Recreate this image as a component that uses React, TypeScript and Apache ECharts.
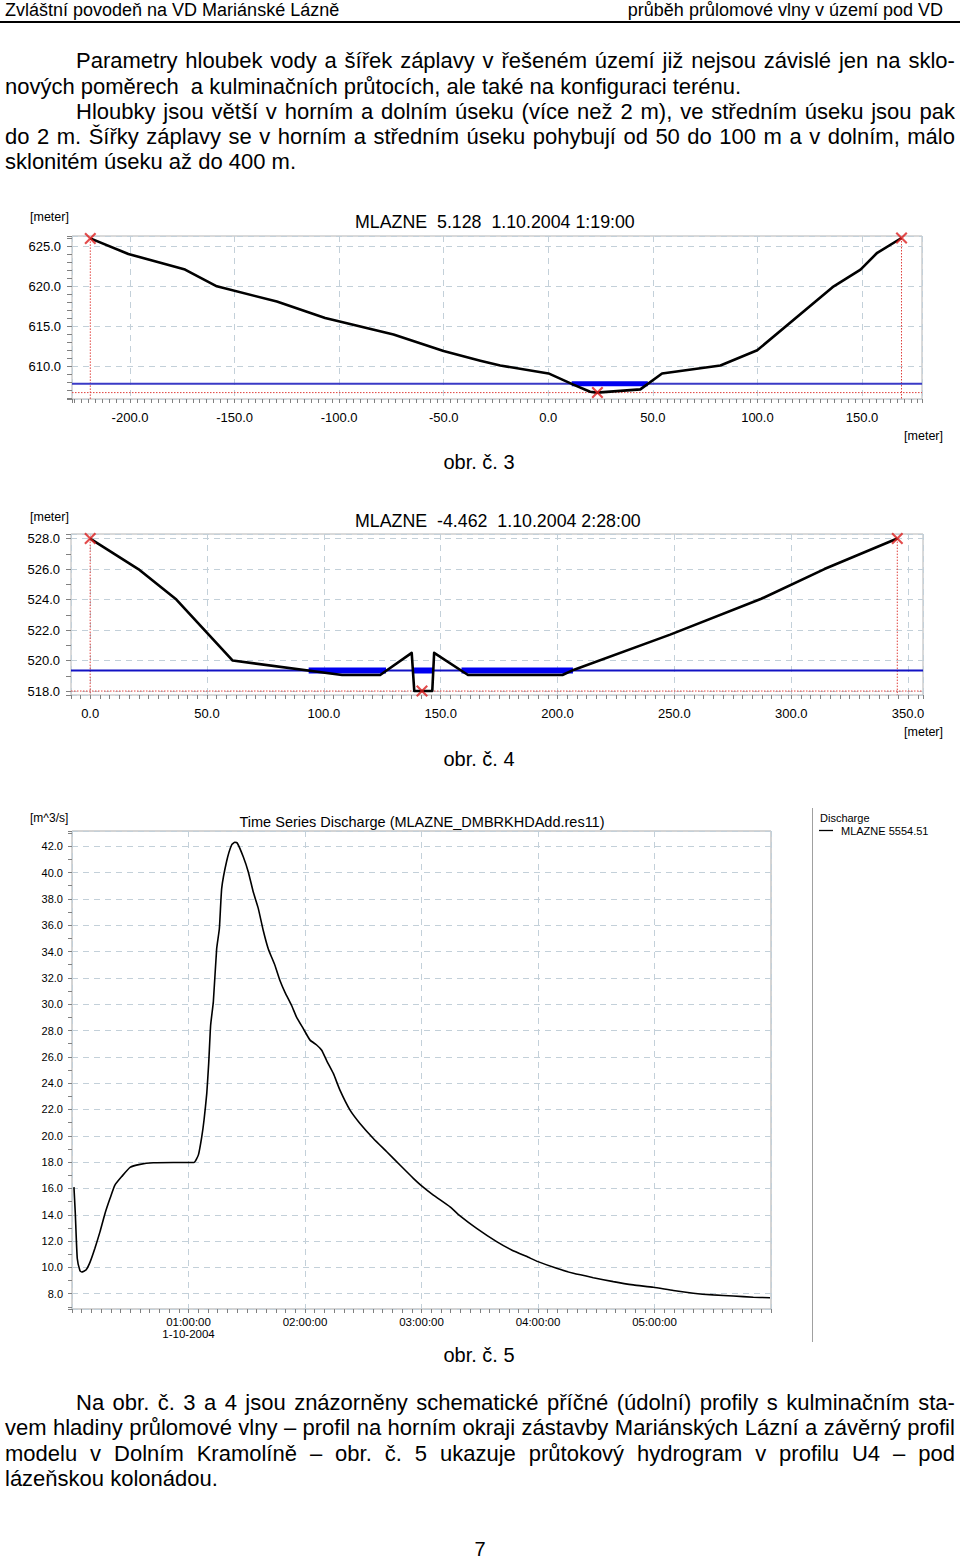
import React, { useEffect, useRef } from "react";
import * as echarts from "echarts";

const FONT = '"Liberation Sans", Arial, Helvetica, sans-serif';

// ---------------- obr. č. 3 (cross-section, upper profile) ----------------
const p1Station = [-219, -200.8, -173.7, -158.5, -129.8, -106.7, -74.0, -50.1, -32.5, -23.0, 0.1, 12.0, 20.0, 23.2, 44.0, 54.4, 82.3, 99.9, 136.5, 149.3, 157.3, 168.9];
const p1Elev = [626.0, 624.05, 622.1, 620.0, 618.1, 616.05, 613.96, 611.9, 610.7, 610.1, 609.1, 607.7, 606.8, 606.7, 607.1, 609.1, 610.1, 612.0, 620.0, 622.1, 624.2, 626.05];
const p1WaterLevel = 607.8;
const p1WaterFrom = [11.2];
const p1WaterTo = [47.6];
const p1BedLevel = 606.7;
const p1MarkX = [-219, 23.5, 168.9];
const p1MarkZ = [626.0, 606.7, 626.05];
const p1XRange = [-227.75, 178.7];
const p1YRange = [605.9, 626.3];
const p1XStep = 50;
const p1YStep = 5;
const p1Title = "MLAZNE  5.128  1.10.2004 1:19:00";

// ---------------- obr. č. 4 (cross-section, closing profile) ----------------
const p2Station = [0, 20.6, 36.9, 61.0, 107.8, 124.1, 137.6, 138.7, 146.4, 147.2, 161.7, 202.1, 207.1, 248.2, 287.2, 314.2, 345.4];
const p2Elev = [528.0, 526.0, 524.0, 520.0, 519.05, 519.05, 520.5, 518.0, 518.0, 520.5, 519.05, 519.05, 519.4, 521.7, 524.05, 526.0, 528.0];
const p2WaterLevel = 519.35;
const p2WaterFrom = [93.5, 138.6, 158.9];
const p2WaterTo = [126.6, 146.6, 206.6];
const p2BedLevel = 518.0;
const p2MarkX = [0, 142.0, 345.4];
const p2MarkZ = [528.0, 518.0, 528.0];
const p2XRange = [-8.2, 356.4];
const p2YRange = [517.74, 528.3];
const p2XStep = 50;
const p2YStep = 2;
const p2Title = "MLAZNE  -4.462  1.10.2004 2:28:00";

// ---------------- obr. č. 5 (discharge hydrograph) ----------------
const hydroMinutes = [1, 1.7, 2.7, 4.1, 5.0, 7.2, 9.3, 11.8, 14.4, 17, 19.6, 22.1, 25.6, 29.9, 35, 41.9, 52.2, 62.8, 65.1, 66.8, 68.0, 69.4, 70.4, 71.4, 72.8, 74.5, 75.9, 77.1, 79.7, 82.2, 83.9, 85.1, 88.2, 90.8, 93.4, 95.9, 98.5, 101.1, 104.5, 107.1, 109.7, 113.1, 115.7, 119.1, 122.6, 126, 128.6, 131.2, 134.6, 138, 143.2, 148.3, 155.2, 162.1, 168.9, 175.8, 179.6, 186.1, 194.7, 200, 208.4, 218.7, 226.4, 235, 240, 249.6, 258.2, 268.5, 278.8, 289.1, 299.4, 309.7, 320, 330.3, 340.6, 350.9, 359.5];
const hydroQ = [16.1, 14.1, 10.7, 9.75, 9.65, 9.8, 10.4, 11.45, 12.7, 14.1, 15.25, 16.25, 16.9, 17.6, 17.83, 17.95, 17.97, 17.97, 18.55, 19.9, 21.2, 23.2, 25.5, 28.4, 30.2, 34.2, 35.75, 38.8, 40.9, 42.1, 42.3, 42.25, 41.2, 40.05, 38.5, 37.3, 35.6, 34.2, 32.96, 31.8, 30.9, 29.9, 29.0, 28.15, 27.27, 26.9, 26.5, 25.7, 24.74, 23.47, 21.95, 20.94, 19.8, 18.79, 17.78, 16.77, 16.26, 15.5, 14.6, 13.9, 12.97, 11.96, 11.33, 10.77, 10.44, 9.93, 9.55, 9.22, 8.92, 8.67, 8.49, 8.24, 8.04, 7.91, 7.83, 7.73, 7.7];
const hydroXRange = [0, 360];
const hydroXStep = 60;
const hydroYRange = [6.84, 43.16];
const hydroYStep = 2;
const hydroTitle = "Time Series Discharge (MLAZNE_DMBRKHDAdd.res11)";
const hydroSeriesName = "MLAZNE 5554.51";

// ---------------- page text ----------------
const headerLeft = "Zvláštní povodeň na VD Mariánské Lázně";
const headerRight = "průběh průlomové vlny v území pod VD";
const para1 = [
  { text: "Parametry hloubek vody a šířek záplavy v řešeném území již nejsou závislé jen na sklo-", y: 62, indent: true, justify: true },
  { text: "nových poměrech  a kulminačních průtocích, ale také na konfiguraci terénu.", y: 88, indent: false, justify: false },
  { text: "Hloubky jsou větší v horním a dolním úseku (více než 2 m), ve středním úseku jsou pak", y: 113, indent: true, justify: true },
  { text: "do 2 m. Šířky záplavy se v horním a středním úseku pohybují od 50 do 100 m a v dolním, málo", y: 138, indent: false, justify: true },
  { text: "sklonitém úseku až do 400 m.", y: 163, indent: false, justify: false },
];
const para2 = [
  { text: "Na obr. č. 3 a 4 jsou znázorněny schematické příčné (údolní) profily s kulminačním sta-", y: 1404, indent: true, justify: true },
  { text: "vem hladiny průlomové vlny – profil na horním okraji zástavby Mariánských Lázní a závěrný profil", y: 1429, indent: false, justify: true },
  { text: "modelu v Dolním Kramolíně – obr. č. 5 ukazuje průtokový hydrogram v profilu U4 – pod", y: 1455, indent: false, justify: true },
  { text: "lázeňskou kolonádou.", y: 1480, indent: false, justify: false },
];
const pageNumber = "7";

const X_SYMBOL = "path://M0,1.5L1.5,0L6,4.5L10.5,0L12,1.5L7.5,6L12,10.5L10.5,12L6,7.5L1.5,12L0,10.5L4.5,6Z";
const GRID_LINE = { color: "#c3d0d9", type: [6, 5] as any, width: 1 };
const TICK_LINE = { color: "#808080", width: 1 };

function fixed1(v: number) {
  return v.toFixed(1);
}

function valueAxis(gi: number, range: number[], step: number, minorSplit: number, fontSize: number, margin: number, tickLen: number) {
  return {
    type: "value",
    gridIndex: gi,
    min: range[0],
    max: range[1],
    minInterval: step,
    maxInterval: step,
    splitNumber: Math.max(1, Math.round((range[1] - range[0]) / step)),
    axisLine: { show: false, onZero: false },
    axisTick: { show: true, length: tickLen, lineStyle: TICK_LINE },
    minorTick: { show: true, splitNumber: minorSplit, length: tickLen, lineStyle: TICK_LINE },
    axisLabel: {
      showMinLabel: false,
      showMaxLabel: false,
      formatter: fixed1,
      color: "#000",
      fontFamily: FONT,
      fontSize,
      margin,
    },
    splitLine: { show: true, lineStyle: GRID_LINE },
  };
}

function profileSeries(gi: number, st: number[], el: number[], wl: number, wFrom: number[], wTo: number[], bed: number, mx: number[], mz: number[], xr: number[], yr: number[], bandWidth: number, waterColor: string) {
  const base = { type: "line", xAxisIndex: gi, yAxisIndex: gi, showSymbol: false, silent: true, animation: false };
  const bandData: any[] = [];
  wFrom.forEach((f, i) => {
    if (i > 0) bandData.push([(wTo[i - 1] + f) / 2, "-"]);
    bandData.push([f, wl], [wTo[i], wl]);
  });
  const last = mx.length - 1;
  const vData: any[] = [
    [mx[0], mz[0]],
    [mx[0], yr[0]],
    [(mx[0] + mx[last]) / 2, "-"],
    [mx[last], mz[last]],
    [mx[last], yr[0]],
  ];
  return [
    { ...base, name: "bed" + gi, data: [[xr[0], bed], [xr[1], bed]], lineStyle: { color: "#e0403c", width: 1, type: [1.5, 1.5] }, z: 2 },
    { ...base, name: "vert" + gi, data: vData, lineStyle: { color: "#e0403c", width: 1, type: [1.5, 1.5] }, z: 2 },
    { ...base, name: "water" + gi, data: [[xr[0], wl], [xr[1], wl]], lineStyle: { color: waterColor, width: 2 }, z: 3 },
    { ...base, name: "band" + gi, data: bandData, connectNulls: false, lineStyle: { color: "#0000f0", width: bandWidth }, z: 4 },
    { ...base, name: "profile" + gi, data: st.map((s, i) => [s, el[i]]), lineStyle: { color: "#000", width: 2.6, join: "round" }, z: 5 },
    {
      type: "scatter",
      xAxisIndex: gi,
      yAxisIndex: gi,
      silent: true,
      data: mx.map((x, i) => [x, mz[i]]),
      symbol: X_SYMBOL,
      symbolSize: 12,
      itemStyle: { color: "#dc1e1e" },
      z: 6,
    },
  ];
}

function pad2(n: number) {
  return (n < 10 ? "0" : "") + n;
}

function txt(x: number, y: number, text: string, fontSize: number, align = "left", extra: any = {}) {
  return {
    type: "text",
    x,
    y,
    silent: true,
    style: { text, fontSize, fontFamily: FONT, fill: "#000", align, verticalAlign: "middle", ...extra },
  };
}

function TextLine({ line, size }: { line: any; size: number }) {
  const left = line.indent ? 76 : 5;
  const width = 955 - left;
  const style: any = {
    position: "absolute",
    left,
    top: line.y - 12,
    width,
    fontFamily: FONT,
    fontSize: size,
    lineHeight: `${size}px`,
    color: "#000",
    whiteSpace: "pre",
  };
  if (line.justify) {
    const words = line.text.split(" ").filter((w: string) => w.length > 0);
    return (
      <div style={{ ...style, display: "flex", justifyContent: "space-between", columnGap: 3 }}>
        {words.map((w: string, i: number) => (
          <span key={i}>{w}</span>
        ))}
      </div>
    );
  }
  return <div style={style}>{line.text}</div>;
}

export default function App() {
  const ref = useRef<HTMLDivElement>(null);

  useEffect(() => {
    if (!ref.current) return;
    const chart = echarts.init(ref.current, null, { renderer: "svg" });

    const grids = [
      { left: 72, top: 236, width: 850, height: 163, show: true, borderColor: "#b4b4b4", borderWidth: 1, backgroundColor: "transparent" },
      { left: 71, top: 534, width: 852, height: 161, show: true, borderColor: "#b4b4b4", borderWidth: 1, backgroundColor: "transparent" },
      { left: 72, top: 831, width: 699, height: 478, show: true, borderColor: "#a8a8a8", borderWidth: 1, backgroundColor: "transparent" },
    ];

    const xAxes = [
      valueAxis(0, p1XRange, p1XStep, 15, 13, 12, 4),
      valueAxis(1, p2XRange, p2XStep, 12, 13, 12, 4),
      {
        type: "value",
        gridIndex: 2,
        min: hydroXRange[0],
        max: hydroXRange[1],
        interval: hydroXStep,
        axisLine: { show: false, onZero: false },
        axisTick: { show: true, length: 4, lineStyle: TICK_LINE },
        minorTick: { show: true, splitNumber: 12, length: 4, lineStyle: TICK_LINE },
        axisLabel: {
          showMinLabel: false,
          showMaxLabel: false,
          color: "#000",
          fontFamily: FONT,
          fontSize: 11.5,
          lineHeight: 12,
          margin: 7,
          formatter: (v: number) => {
            const s = pad2(Math.round(v / 60)) + ":00:00";
            return v === 60 ? s + "\n1-10-2004" : s;
          },
        },
        splitLine: { show: true, lineStyle: GRID_LINE },
      },
    ];

    const yAxes = [
      valueAxis(0, p1YRange, p1YStep, 5, 13, 11, 5),
      valueAxis(1, p2YRange, p2YStep, 2, 13, 11, 5),
      valueAxis(2, hydroYRange, hydroYStep, 2, 11, 9, 4),
    ];

    const series: any[] = [
      ...profileSeries(0, p1Station, p1Elev, p1WaterLevel, p1WaterFrom, p1WaterTo, p1BedLevel, p1MarkX, p1MarkZ, p1XRange, p1YRange, 5, "#3a3ac6"),
      ...profileSeries(1, p2Station, p2Elev, p2WaterLevel, p2WaterFrom, p2WaterTo, p2BedLevel, p2MarkX, p2MarkZ, p2XRange, p2YRange, 6, "#1212c4"),
      {
        type: "line",
        name: hydroSeriesName,
        xAxisIndex: 2,
        yAxisIndex: 2,
        showSymbol: false,
        silent: true,
        smooth: 0.15,
        data: hydroMinutes.map((t, i) => [t, hydroQ[i]]),
        lineStyle: { color: "#000", width: 1.6 },
        z: 5,
      },
    ];

    const graphic: any[] = [
      // obr. 3
      txt(30, 217, "[meter]", 12.5),
      txt(355, 222, p1Title, 17.8, "left", { whiteSpace: "pre" }),
      txt(943, 436, "[meter]", 12.5, "right"),
      txt(479, 462, "obr. č. 3", 20, "center"),
      // obr. 4
      txt(30, 517, "[meter]", 12.5),
      txt(355, 521, p2Title, 17.8, "left", { whiteSpace: "pre" }),
      txt(943, 732, "[meter]", 12.5, "right"),
      txt(479, 759, "obr. č. 4", 20, "center"),
      // obr. 5
      txt(30, 818, "[m^3/s]", 12),
      txt(422, 822, hydroTitle, 14.5, "center"),
      txt(479, 1355, "obr. č. 5", 20, "center"),
      { type: "line", silent: true, shape: { x1: 812.5, y1: 808, x2: 812.5, y2: 1342 }, style: { stroke: "#a0a0a0", lineWidth: 1 } },
      txt(820, 818, "Discharge", 11),
      { type: "line", silent: true, shape: { x1: 819, y1: 830.5, x2: 833, y2: 830.5 }, style: { stroke: "#000", lineWidth: 1.3 } },
      txt(841, 831, hydroSeriesName, 11),
    ];

    chart.setOption({
      animation: false,
      backgroundColor: "#fff",
      textStyle: { fontFamily: FONT },
      grid: grids,
      xAxis: xAxes,
      yAxis: yAxes,
      series,
      graphic,
    });

    return () => {
      chart.dispose();
    };
  }, []);

  return (
    <div style={{ position: "absolute", left: 0, top: 0, width: 960, height: 1561, background: "#fff", overflow: "hidden" }}>
      <div ref={ref} style={{ position: "absolute", left: 0, top: 0, width: 960, height: 1561 }} />
      <div style={{ position: "absolute", left: 5, top: 1, fontFamily: FONT, fontSize: 18, lineHeight: "18px", color: "#000", whiteSpace: "pre" }}>{headerLeft}</div>
      <div style={{ position: "absolute", right: 17, top: 1, fontFamily: FONT, fontSize: 18, lineHeight: "18px", color: "#000", whiteSpace: "pre", textAlign: "right" }}>{headerRight}</div>
      <div style={{ position: "absolute", left: 0, top: 21, width: 960, height: 2, background: "#000" }} />
      {para1.map((l, i) => (
        <TextLine key={"a" + i} line={l} size={22} />
      ))}
      {para2.map((l, i) => (
        <TextLine key={"b" + i} line={l} size={22} />
      ))}
      <div style={{ position: "absolute", left: 0, width: 960, top: 1541, textAlign: "center", fontFamily: FONT, fontSize: 20, lineHeight: "16px", color: "#000" }}>{pageNumber}</div>
    </div>
  );
}
